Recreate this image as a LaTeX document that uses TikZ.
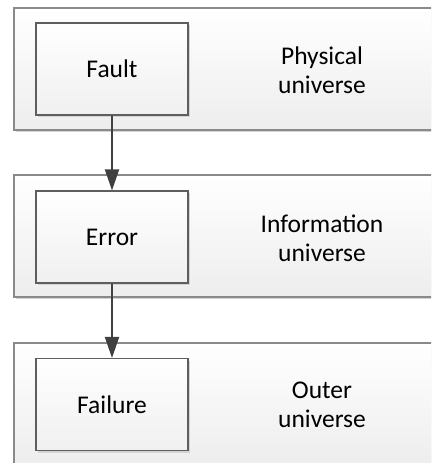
\documentclass[tikz,border=0pt]{standalone}
\usepackage{fontspec}
\setmainfont{Carlito}
\usetikzlibrary{arrows.meta,shadows}
\definecolor{outerline}{HTML}{8A8A8A}
\definecolor{innerline}{HTML}{5E5E5E}
\definecolor{arrowcol}{HTML}{404040}
\definecolor{shadowcol}{HTML}{D4D4D4}
\tikzset{
  layer/.style={draw=outerline, line width=1.3pt, top color=white, bottom color=black!7,
    minimum width=446pt, minimum height=122pt, inner sep=0pt,
    drop shadow={shadow xshift=2pt, shadow yshift=-2pt, fill=shadowcol, opacity=1}},
  event/.style={draw=innerline, line width=1.1pt, top color=white, bottom color=black!6,
    minimum width=152pt, minimum height=92pt, inner sep=0pt,
    font=\fontsize{25.5}{29}\selectfont,
    drop shadow={shadow xshift=2pt, shadow yshift=-2pt, fill=shadowcol, opacity=1}},
  caption/.style={align=center, font=\fontsize{25.5}{29}\selectfont, inner sep=0pt},
  arr/.style={draw=arrowcol, line width=2pt, -{Triangle[length=21pt,width=14pt]}}
}
\begin{document}
\begin{tikzpicture}[x=1pt,y=-1pt]
\useasboundingbox (0,0) rectangle (431,463);
\clip (0,0) rectangle (431,463);
\node[layer] (l1) at (237,69) {};
\node[layer] (l2) at (237,236) {};
\node[layer] (l3) at (237,404) {};
\node[event] (fault) at (112,69) {Fault};
\node[event] (error) at (112,237) {Error};
\node[event] (failure) at (112,404.5) {Failure};
\node[caption] (c1) at (322,70) {Physical\\universe};
\node[caption] (c2) at (322,238) {Information\\universe};
\node[caption] (c3) at (322,405) {Outer\\universe};
\draw[arr] (fault) -- (error);
\draw[arr] (error) -- (failure);
\end{tikzpicture}
\end{document}
